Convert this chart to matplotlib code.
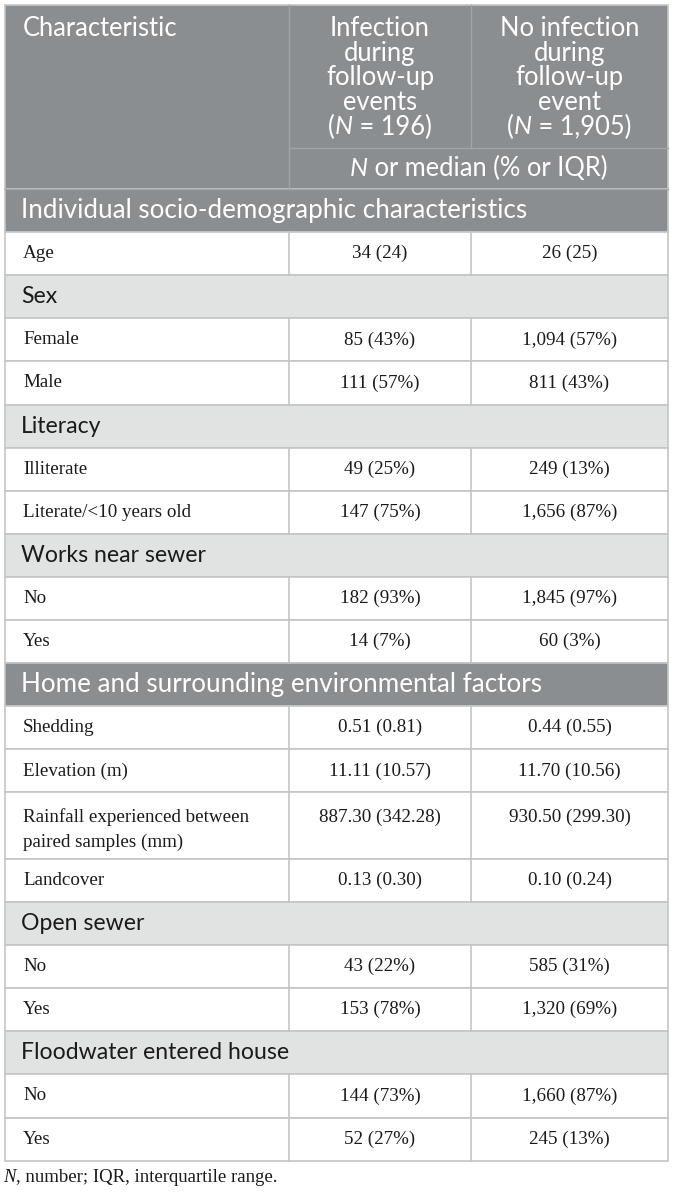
import matplotlib
matplotlib.use("Agg")
import matplotlib.pyplot as plt
from matplotlib.patches import Rectangle

# Table content
row_labels = [
    "Individual socio-demographic characteristics",
    "Age",
    "Sex", "Female", "Male",
    "Literacy", "Illiterate", "Literate/<10 years old",
    "Works near sewer", "No", "Yes",
    "Home and surrounding environmental factors",
    "Shedding", "Elevation (m)",
    "Rainfall experienced between\npaired samples (mm)",
    "Landcover",
    "Open sewer", "No", "Yes",
    "Floodwater entered house", "No", "Yes",
]
# 'major' = dark section band, 'minor' = light sub-heading, 'data' = value row
row_kinds = [
    "major", "data",
    "minor", "data", "data",
    "minor", "data", "data",
    "minor", "data", "data",
    "major", "data", "data", "data", "data",
    "minor", "data", "data",
    "minor", "data", "data",
]
infected = [
    None, "34 (24)",
    None, "85 (43%)", "111 (57%)",
    None, "49 (25%)", "147 (75%)",
    None, "182 (93%)", "14 (7%)",
    None, "0.51 (0.81)", "11.11 (10.57)", "887.30 (342.28)", "0.13 (0.30)",
    None, "43 (22%)", "153 (78%)",
    None, "144 (73%)", "52 (27%)",
]
not_infected = [
    None, "26 (25)",
    None, "1,094 (57%)", "811 (43%)",
    None, "249 (13%)", "1,656 (87%)",
    None, "1,845 (97%)", "60 (3%)",
    None, "0.44 (0.55)", "11.70 (10.56)", "930.50 (299.30)", "0.10 (0.24)",
    None, "585 (31%)", "1,320 (69%)",
    None, "1,660 (87%)", "245 (13%)",
]
col_head_1 = ["Infection", "during", "follow-up", "events"]
col_head_2 = ["No infection", "during", "follow-up", "event"]
n_infected = "196"
n_not_infected = "1,905"

# Layout (pixels)
W, H = 674, 1193
x0, x1, x2, x3 = 5, 289, 471, 668
y_top, y_sub, y_head = 5, 148, 189
row_h, tall_h = 43.1, 66.5

dark = "#8b8e90"
light = "#e1e3e2"
border = "#c4c5c5"
inner = "#a2a5a7"
ink = "#1a1a1a"
sans = "Lato"
serif = "Liberation Serif"


def pt(px):
    return px * 72 / 100


head_fs = pt(25.5)
major_fs = pt(26)
minor_fs = pt(23)
body_fs = pt(19)
note_fs = pt(18.8)

fig = plt.figure(figsize=(W / 100, H / 100), dpi=100)
ax = fig.add_axes([0, 0, 1, 1])
ax.set_xlim(0, W)
ax.set_ylim(H, 0)
ax.axis("off")
renderer = fig.canvas.get_renderer()


def runs(x, y, parts, ha="left", color="black", size=12, family=sans):
    # draw a line made of (text, style) pieces, measured with the renderer
    widths = []
    for s, st in parts:
        t = ax.text(0, 0, s, fontsize=size, family=family, style=st)
        widths.append(t.get_window_extent(renderer).width)
        t.remove()
    total = sum(widths)
    cx = x - total / 2 if ha == "center" else x
    for (s, st), w in zip(parts, widths):
        ax.text(cx, y, s, fontsize=size, family=family, style=st,
                color=color, va="center", ha="left")
        cx += w


# header block
ax.add_patch(Rectangle((x0, y_top), x3 - x0, y_head - y_top, facecolor=dark,
                       edgecolor=border, lw=1.2))
ax.plot([x1, x1], [y_top, y_head], color=inner, lw=1)
ax.plot([x2, x2], [y_top, y_sub], color=inner, lw=1)
ax.plot([x1, x3], [y_sub, y_sub], color=inner, lw=1)
ax.plot([x0, x3], [y_head, y_head], color=inner, lw=1)
ax.text(23, 28, "Characteristic", fontsize=head_fs, family=sans,
        color="white", va="center")
line_y = [28, 53, 78, 103]
for ly, a, b in zip(line_y, col_head_1, col_head_2):
    ax.text((x1 + x2) / 2, ly, a, fontsize=head_fs, family=sans,
            color="white", ha="center", va="center")
    ax.text((x2 + x3) / 2, ly, b, fontsize=head_fs, family=sans,
            color="white", ha="center", va="center")
runs((x1 + x2) / 2, 127, [("(", "normal"), ("N", "italic"),
                          (" = " + n_infected + ")", "normal")],
     ha="center", color="white", size=head_fs)
runs((x2 + x3) / 2, 127, [("(", "normal"), ("N", "italic"),
                          (" = " + n_not_infected + ")", "normal")],
     ha="center", color="white", size=head_fs)
runs((x1 + x3) / 2, 168, [("N", "italic"), (" or median (% or IQR)", "normal")],
     ha="center", color="white", size=head_fs)

# body rows
y = y_head
for label, kind, a, b in zip(row_labels, row_kinds, infected, not_infected):
    h = tall_h if "\n" in label else row_h
    if kind == "major":
        ax.add_patch(Rectangle((x0, y), x3 - x0, h, facecolor=dark,
                               edgecolor=border, lw=1.2))
        ax.text(21, y + h / 2, label, fontsize=major_fs, family=sans,
                color="white", va="center")
    elif kind == "minor":
        ax.add_patch(Rectangle((x0, y), x3 - x0, h, facecolor=light,
                               edgecolor=border, lw=1.2))
        ax.text(21, y + h / 2, label, fontsize=minor_fs, family=sans,
                color=ink, va="center")
    else:
        ax.add_patch(Rectangle((x0, y), x3 - x0, h, facecolor="white",
                               edgecolor=border, lw=1.2))
        ax.plot([x1, x1], [y, y + h], color=border, lw=1.2)
        ax.plot([x2, x2], [y, y + h], color=border, lw=1.2)
        if "\n" in label:
            ty = y + 25
            for i, part in enumerate(label.split("\n")):
                ax.text(23, ty + i * 25, part, fontsize=body_fs,
                        family=serif, color=ink, va="center")
        else:
            ty = y + h / 2
            ax.text(23, ty, label, fontsize=body_fs, family=serif,
                    color=ink, va="center")
        ax.text((x1 + x2) / 2, ty, a, fontsize=body_fs, family=serif,
                color=ink, ha="center", va="center")
        ax.text((x2 + x3) / 2, ty, b, fontsize=body_fs, family=serif,
                color=ink, ha="center", va="center")
    y += h

runs(3, y + 17, [("N", "italic"), (", number; IQR, interquartile range.", "normal")],
     size=note_fs, family=serif, color=ink)

fig.savefig("out.png", dpi=100)
